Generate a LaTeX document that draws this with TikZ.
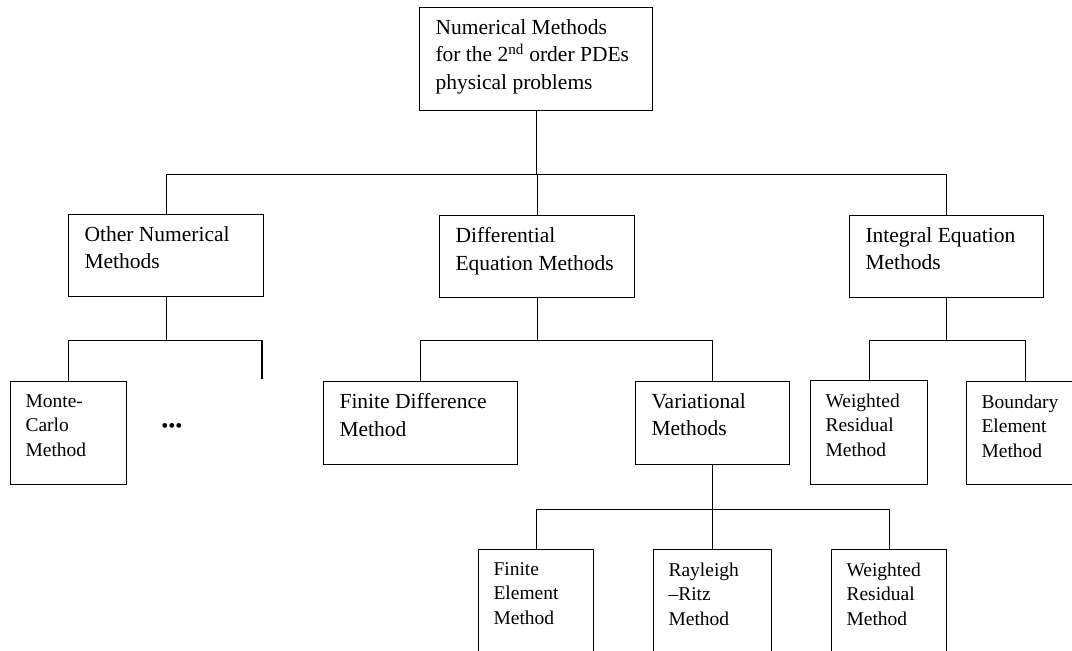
\documentclass[tikz,border=0pt]{standalone}
\usepackage{fontspec}
\setmainfont{Liberation Serif}

\begin{document}
\begin{tikzpicture}[x=1pt, y=-1pt, line width=1.1pt,
  box/.style={draw=black, anchor=north west, inner sep=0pt},
  bigtxt/.style={anchor=north west, align=left, inner sep=0pt, xshift=16pt, yshift=-12pt,
    font=\fontsize{21.5}{27.5}\selectfont},
  smalltxt/.style={anchor=north west, align=left, inner sep=0pt, xshift=15pt, yshift=-13pt,
    font=\fontsize{19.5}{24.5}\selectfont}]
\useasboundingbox (0,0) rectangle (1072,651);
\clip (0,0) rectangle (1072,651);
% first row
\node[box, minimum width=233pt, minimum height=103pt,
  label={[bigtxt]north west:Numerical Methods\\for the 2\textsuperscript{nd} order PDEs\\physical problems}] (top) at (419,7) {};
% second row
\node[box, minimum width=195pt, minimum height=82pt,
  label={[bigtxt]north west:Other Numerical\\Methods}] (other) at (68,214) {};
\node[box, minimum width=195pt, minimum height=82pt,
  label={[bigtxt]north west:Differential\\Equation Methods}] (diff) at (439,215) {};
\node[box, minimum width=194pt, minimum height=82pt,
  label={[bigtxt]north west:Integral Equation\\Methods}] (integral) at (849,215) {};
% third row
\node[box, minimum width=116pt, minimum height=103pt,
  label={[smalltxt]north west:Monte-\\Carlo\\Method}] (monte) at (10,381) {};
\coordinate (more) at (262,379);
\node[inner sep=0pt, font=\fontsize{20}{20}\selectfont] (dots) at (172,428) {•••};
\node[box, minimum width=194pt, minimum height=83pt,
  label={[bigtxt]north west:Finite Difference\\Method}] (fd) at (323,381) {};
\node[box, minimum width=154pt, minimum height=83pt,
  label={[bigtxt]north west:Variational\\Methods}] (var) at (635,381) {};
\node[box, minimum width=117pt, minimum height=104pt,
  label={[smalltxt]north west:Weighted\\Residual\\Method}] (wr) at (810,380) {};
\node[box, minimum width=118pt, minimum height=103pt,
  label={[smalltxt]north west:Boundary\\Element\\Method}] (be) at (966,381) {};
% fourth row
\node[box, minimum width=115pt, minimum height=115pt,
  label={[smalltxt]north west:Finite\\Element\\Method}] (fe) at (478,549) {};
\node[box, minimum width=118pt, minimum height=115pt,
  label={[smalltxt]north west:Rayleigh\\–Ritz\\Method}] (ray) at (653,549) {};
\node[box, minimum width=115pt, minimum height=115pt,
  label={[smalltxt]north west:Weighted\\Residual\\Method}] (wrb) at (831,549) {};
% connectors
\draw (top.south) -- ++(0,63) coordinate (b1);
\draw (other.north) |- (b1) -| (integral.north);
\draw (diff.north) -- (diff.north |- b1);
\draw (other.south) -- ++(0,43) coordinate (b2);
\draw (monte.north) |- (b2) -| (more);
\draw (diff.south) -- ++(0,42) coordinate (b3);
\draw (fd.north) |- (b3) -| (var.north);
\draw (integral.south) -- ++(0,42) coordinate (b5);
\draw (wr.north) |- (b5) -| (be.north);
\draw (var.south) -- ++(0,44) coordinate (b4);
\draw (fe.north) |- (b4) -| (wrb.north);
\draw (ray.north) -- (ray.north |- b4);
\end{tikzpicture}
\end{document}
